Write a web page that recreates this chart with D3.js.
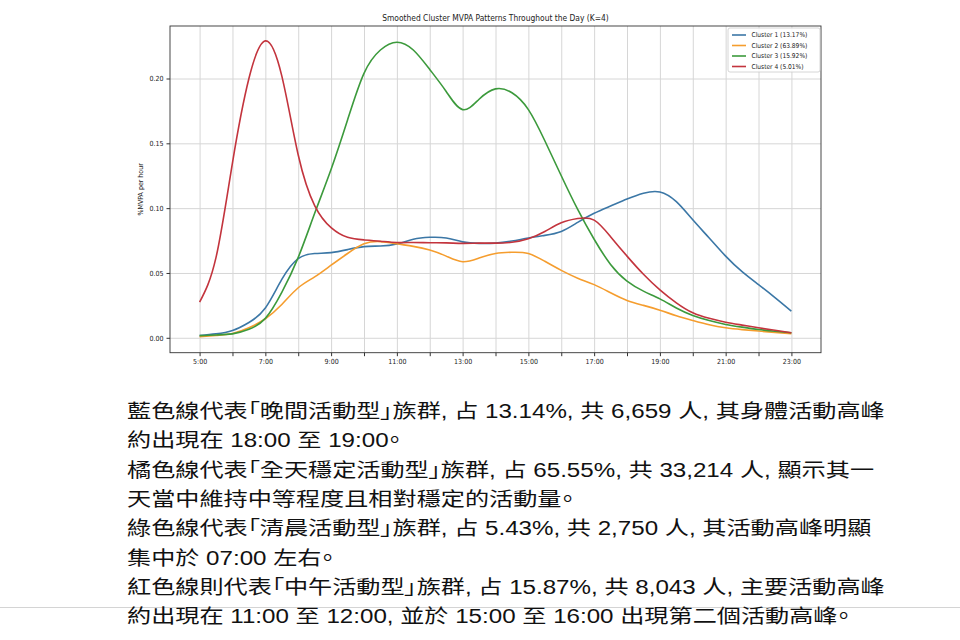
<!DOCTYPE html>
<html>
<head>
    <meta charset="utf-8">
    <title>Smoothed Cluster MVPA Patterns</title>
    <script src="https://d3js.org/d3.v7.min.js"></script>
    <style>
        body { margin: 0; background: #fff; }
        .tick text { font-family: "DejaVu Sans Condensed", "DejaVu Sans", sans-serif; }
        .note { font-feature-settings: "palt"; }
    </style>
</head>
<body>
    <svg id="chart"></svg>
    <script>
        // values
        const hours = [5, 5.5, 6, 6.5, 7, 7.5, 8, 8.5, 9, 9.5, 10, 10.5, 11, 11.5, 12, 12.5, 13, 13.5,
                       14, 14.5, 15, 15.5, 16, 16.5, 17, 17.5, 18, 18.5, 19, 19.5, 20, 20.5, 21, 21.5, 22, 22.5, 23];

        const cluster1 = [0.0017, 0.003, 0.0056, 0.0118, 0.023, 0.045, 0.061, 0.065, 0.0657, 0.068, 0.0703, 0.0708,
                          0.0724, 0.076, 0.0775, 0.077, 0.074, 0.0728, 0.073, 0.0746, 0.077, 0.079, 0.082, 0.089,
                          0.096, 0.1016, 0.107, 0.1115, 0.1125, 0.105, 0.091, 0.077, 0.063, 0.051, 0.041, 0.031, 0.0205];
        const cluster2 = [0.0008, 0.0018, 0.0033, 0.0077, 0.0147, 0.0257, 0.0386, 0.047, 0.056, 0.065, 0.0725, 0.0742,
                          0.0725, 0.0705, 0.0677, 0.063, 0.0587, 0.0615, 0.065, 0.066, 0.065, 0.059, 0.052, 0.046,
                          0.041, 0.0347, 0.0288, 0.025, 0.0213, 0.017, 0.0133, 0.010, 0.0077, 0.0063, 0.0052, 0.0042, 0.0032];
        const cluster3 = [0.0017, 0.0022, 0.003, 0.0065, 0.015, 0.035, 0.062, 0.096, 0.130, 0.168, 0.204, 0.222,
                          0.228, 0.222, 0.207, 0.190, 0.176, 0.184, 0.192, 0.189, 0.176, 0.152, 0.125, 0.099,
                          0.076, 0.0566, 0.0437, 0.036, 0.030, 0.023, 0.0172, 0.0133, 0.0103, 0.0082, 0.0064, 0.005, 0.0039];
        const cluster4 = [0.0275, 0.062, 0.135, 0.200, 0.229, 0.202, 0.141, 0.102, 0.085, 0.0775, 0.0755, 0.0745,
                          0.0735, 0.0735, 0.0733, 0.0732, 0.0728, 0.073, 0.073, 0.0737, 0.0764, 0.082, 0.0887, 0.092,
                          0.0908, 0.078, 0.063, 0.049, 0.037, 0.027, 0.0193, 0.015, 0.012, 0.0098, 0.0077, 0.0058, 0.0039];

        const legendLabels = ["Cluster 1 (13.17%)", "Cluster 2 (63.89%)", "Cluster 3 (15.92%)", "Cluster 4 (5.01%)"];
        const colors = ["#3b77a6", "#f59d2e", "#3c9a3c", "#c3343d"];

        const xTicks = [5, 6, 7, 8, 9, 10, 11, 12, 13, 14, 15, 16, 17, 18, 19, 20, 21, 22, 23];
        const xTickLabels = ["5:00", "", "7:00", "", "9:00", "", "11:00", "", "13:00", "", "15:00", "", "17:00", "",
                             "19:00", "", "21:00", "", "23:00"];
        const yTicks = [0, 0.05, 0.10, 0.15, 0.20];

        const noteLines = [
            "藍色線代表「晚間活動型」族群, 占 13.14%, 共 6,659 人, 其身體活動高峰",
            "約出現在 18:00 至 19:00。",
            "橘色線代表「全天穩定活動型」族群, 占 65.55%, 共 33,214 人, 顯示其一",
            "天當中維持中等程度且相對穩定的活動量。",
            "綠色線代表「清晨活動型」族群, 占 5.43%, 共 2,750 人, 其活動高峰明顯",
            "集中於 07:00 左右。",
            "紅色線則代表「中午活動型」族群, 占 15.87%, 共 8,043 人, 主要活動高峰",
            "約出現在 11:00 至 12:00, 並於 15:00 至 16:00 出現第二個活動高峰。"
        ];

        const series = [cluster1, cluster2, cluster3, cluster4];

        const width = 960;
        const height = 640;
        const plot = { left: 170, right: 821, top: 26, bottom: 352.7 };

        const svg = d3.select("#chart")
            .attr("width", width)
            .attr("height", height);

        svg.append("rect").attr("width", width).attr("height", height).attr("fill", "#fff");

        const x = d3.scaleLinear().domain([4.1, 23.9]).range([plot.left, plot.right]);
        const y = d3.scaleLinear().domain([-0.0115, 0.2405]).range([plot.bottom, plot.top]);

        // grid
        svg.append("g")
            .attr("transform", `translate(0,${plot.bottom})`)
            .call(d3.axisBottom(x).tickValues(xTicks).tickSize(-(plot.bottom - plot.top)).tickFormat(""))
            .call(g => g.select(".domain").remove())
            .selectAll("line").attr("stroke", "#d6d6d6").attr("stroke-width", 1);

        svg.append("g")
            .attr("transform", `translate(${plot.left},0)`)
            .call(d3.axisLeft(y).tickValues(yTicks).tickSize(-(plot.right - plot.left)).tickFormat(""))
            .call(g => g.select(".domain").remove())
            .selectAll("line").attr("stroke", "#d6d6d6").attr("stroke-width", 1);

        // lines (smooth spline through the read points)
        const line = d3.line()
            .x((d, i) => x(hours[i]))
            .y(d => y(d))
            .curve(d3.curveNatural);

        series.forEach((s, i) => {
            svg.append("path")
                .datum(s)
                .attr("fill", "none")
                .attr("stroke", colors[i])
                .attr("stroke-width", 1.6)
                .attr("d", line);
        });

        // frame
        svg.append("rect")
            .attr("x", plot.left).attr("y", plot.top)
            .attr("width", plot.right - plot.left).attr("height", plot.bottom - plot.top)
            .attr("fill", "none").attr("stroke", "#333").attr("stroke-width", 0.9);

        // axes
        const xAxis = svg.append("g")
            .attr("transform", `translate(0,${plot.bottom})`)
            .call(d3.axisBottom(x).tickValues(xTicks).tickSize(3.5).tickPadding(2.5)
                .tickFormat((d, i) => xTickLabels[i]));
        xAxis.select(".domain").remove();
        xAxis.selectAll("line").attr("stroke", "#333");
        xAxis.selectAll("text").attr("font-size", 7).attr("fill", "#222");

        const yAxis = svg.append("g")
            .attr("transform", `translate(${plot.left},0)`)
            .call(d3.axisLeft(y).tickValues(yTicks).tickSize(3.5).tickPadding(3)
                .tickFormat(d3.format(".2f")));
        yAxis.select(".domain").remove();
        yAxis.selectAll("line").attr("stroke", "#333");
        yAxis.selectAll("text").attr("font-size", 7).attr("fill", "#222");

        svg.append("text")
            .attr("transform", `translate(143,${(plot.top + plot.bottom) / 2}) rotate(-90)`)
            .attr("text-anchor", "middle")
            .attr("font-family", "DejaVu Sans Condensed, DejaVu Sans, sans-serif")
            .attr("font-size", 7)
            .attr("fill", "#222")
            .text("%MVPA per hour");

        svg.append("text")
            .attr("x", (plot.left + plot.right) / 2)
            .attr("y", 21)
            .attr("text-anchor", "middle")
            .attr("font-family", "DejaVu Sans Condensed, DejaVu Sans, sans-serif")
            .attr("font-size", 8.4)
            .attr("fill", "#222")
            .text("Smoothed Cluster MVPA Patterns Throughout the Day (K=4)");

        // legend
        const legend = svg.append("g").attr("transform", "translate(728,28)");
        legend.append("rect")
            .attr("width", 92).attr("height", 44).attr("rx", 2)
            .attr("fill", "#fff").attr("fill-opacity", 0.85)
            .attr("stroke", "#ccc").attr("stroke-width", 0.8);
        legendLabels.forEach((label, i) => {
            const row = legend.append("g").attr("transform", `translate(0,${7 + i * 10.5})`);
            row.append("line").attr("x1", 4).attr("x2", 18).attr("stroke", colors[i]).attr("stroke-width", 1.6);
            row.append("text")
                .attr("x", 23.5).attr("y", 2.3)
                .attr("font-family", "DejaVu Sans Condensed, DejaVu Sans, sans-serif")
                .attr("font-size", 6.6)
                .attr("fill", "#222")
                .text(label);
        });

        // description text
        svg.append("line")
            .attr("x1", 0).attr("x2", width).attr("y1", 607.5).attr("y2", 607.5)
            .attr("stroke", "#d4d4d4").attr("stroke-width", 1);

        const notes = svg.append("g").attr("transform", "translate(127,0)");
        const baselines = [418, 447.5, 477, 506, 535.5, 565, 594, 623.5];
        const noteText = notes.selectAll("text")
            .data(noteLines)
            .enter().append("text")
            .attr("class", "note")
            .attr("x", 0)
            .attr("y", (d, i) => baselines[i])
            .attr("font-family", "Liberation Sans, Noto Sans CJK TC, sans-serif")
            .attr("font-size", 19.5)
            .attr("fill", "#111")
            .text(d => d);

        const firstWidth = noteText.node().getComputedTextLength();
        const sx = 758 / firstWidth;
        notes.attr("transform", `translate(127,0) scale(${sx},1)`);
    </script>
</body>
</html>
